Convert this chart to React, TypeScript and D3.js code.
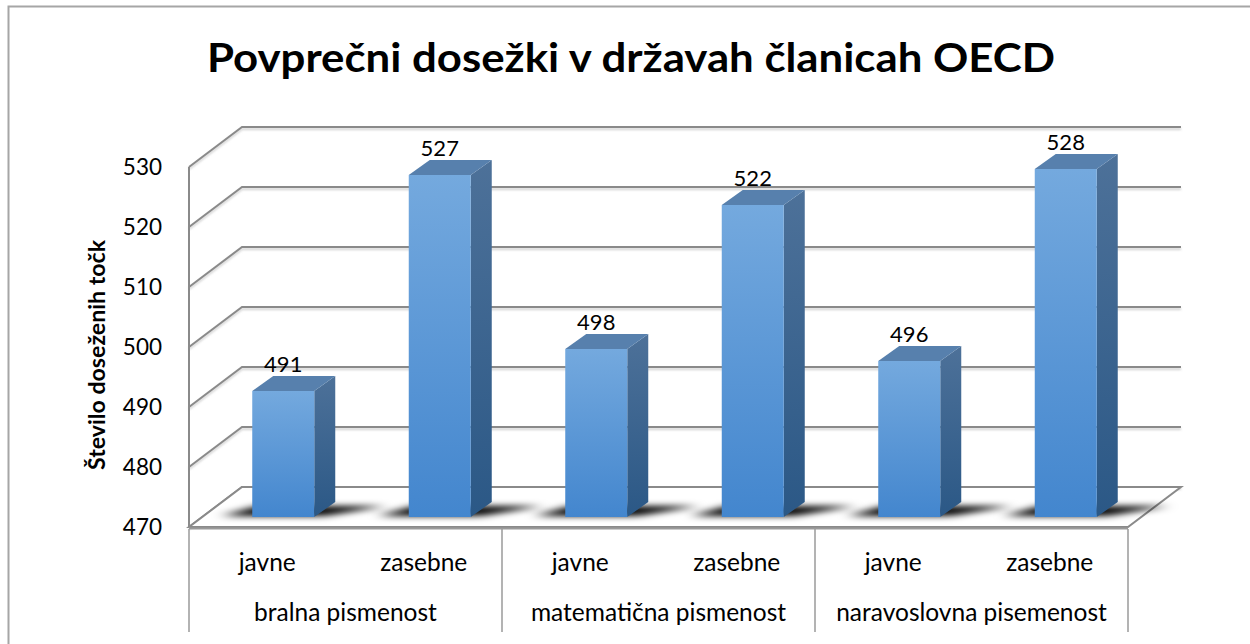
import React from "react";
import * as d3 from "d3";

const groups = ["bralna pismenost", "matematična pismenost", "naravoslovna pisemenost"];
const types = ["javne", "zasebne"];
const javneValues = [491, 498, 496];
const zasebneValues = [527, 522, 528];
const yTicks = [470, 480, 490, 500, 510, 520, 530];
const title = "Povprečni dosežki v državah članicah OECD";
const yTitle = "Število doseženih točk";

const W = 1250;
const H = 644;
const FONT = "Lato, 'Open Sans', sans-serif";

export default function App() {
  const left = 189;
  const right = 1128;
  const DX = 53;
  const DY = -40;
  const y = d3.scaleLinear().domain([470, 530]).range([527, 167]);
  const gx = d3.scaleBand<string>().domain(groups).range([left, right]);
  const cats = groups.flatMap((g) => types.map((t) => g + "|" + t));
  const cx = d3.scaleBand<string>().domain(cats).range([left, right]);
  const bars = groups.flatMap((g, i) => [
    { key: g + "|javne", type: "javne", v: javneValues[i] },
    { key: g + "|zasebne", type: "zasebne", v: zasebneValues[i] },
  ]);
  const bw = 62;
  const offX = 16;
  const offY = -10;
  const bdx = 21;
  const bdy = -15;
  const gridColor = "#8a8a8a";
  const floorY = y(470);

  return (
    <svg width={W} height={H} style={{ position: "fixed", left: 0, top: 0, background: "#fff" }}>
      <defs>
        <linearGradient id="front" x1="0" y1="0" x2="0" y2="1">
          <stop offset="0" stopColor="#74a9de" />
          <stop offset="1" stopColor="#4386ce" />
        </linearGradient>
        <linearGradient id="side" x1="0" y1="0" x2="0" y2="1">
          <stop offset="0" stopColor="#4d7199" />
          <stop offset="1" stopColor="#2b5886" />
        </linearGradient>
        <filter id="blur" x="-50%" y="-100%" width="200%" height="300%">
          <feGaussianBlur stdDeviation="7 3" />
        </filter>
        <filter id="lineShadow" x="-5%" y="-50%" width="110%" height="300%">
          <feGaussianBlur stdDeviation="0.8" />
        </filter>
      </defs>
      <rect x={8.5} y={6.5} width={W + 20} height={H + 20} fill="#fff" stroke="#a6a6a6" strokeWidth={2} />

      {/* gridlines with wall diagonals */}
      {yTicks.map((t) => {
        const yf = y(t);
        const d = `M${left},${yf}L${left + DX},${yf + DY}L${right + DX},${yf + DY}`;
        return (
          <g key={t}>
            <path d={d} transform="translate(0,2)" fill="none" stroke="#cfcfcf" strokeWidth={2} filter="url(#lineShadow)" />
            <path d={d} fill="none" stroke={gridColor} strokeWidth={2} />
          </g>
        );
      })}
      {/* left wall front edge */}
      <line x1={left} x2={left} y1={y(530)} y2={floorY} stroke={gridColor} strokeWidth={2} />

      {/* floor */}
      <path
        d={`M${left},${floorY}L${right},${floorY}L${right + DX},${floorY + DY}L${left + DX},${floorY + DY}Z`}
        fill="#fff"
        stroke={gridColor}
        strokeWidth={2}
      />
      <line x1={left} x2={right} y1={floorY + 1.5} y2={floorY + 1.5} stroke="#9a9a9a" strokeWidth={2} />

      {/* shadows */}
      {bars.map((b) => {
        const x0 = (cx(b.key) as number) + cx.bandwidth() / 2 - bw / 2 + offX;
        const base = floorY + offY;
        const x1 = x0 + bw;
        return (
          <path
            key={"s" + b.key}
            d={`M${x0 - 30},${base - 1}L${x1 + 10},${base - 1}L${x1 + bdx + 50},${base + bdy + 4}L${x0 + 5},${base + bdy + 4}Z`}
            fill="#000"
            opacity={1}
            filter="url(#blur)"
          />
        );
      })}

      {/* bars */}
      {bars.map((b) => {
        const x0 = (cx(b.key) as number) + cx.bandwidth() / 2 - bw / 2 + offX;
        const x1 = x0 + bw;
        const base = floorY + offY;
        const top = y(b.v) + offY;
        return (
          <g key={b.key}>
            <path
              d={`M${x1},${top}L${x1 + bdx},${top + bdy}L${x1 + bdx},${base + bdy}L${x1},${base}Z`}
              fill="url(#side)"
            />
            <path
              d={`M${x0},${top}L${x0 + bdx},${top + bdy}L${x1 + bdx},${top + bdy}L${x1},${top}Z`}
              fill="#5780ad"
            />
            <rect x={x0} y={top} width={bw} height={base - top} fill="url(#front)" />
            <text
              x={x0 + bw / 2}
              y={top + bdy - 4}
              textAnchor="middle"
              fontFamily={FONT}
              fontSize={22}
              fill="#000"
            >
              {b.v}
            </text>
          </g>
        );
      })}

      {/* y tick labels */}
      {yTicks.map((t) => (
        <text key={"t" + t} x={162} y={y(t) + 8} textAnchor="end" fontFamily={FONT} fontSize={22.5} fill="#000">
          {t}
        </text>
      ))}

      {/* category axis box */}
      {[left, ...groups.map((g) => (gx(g) as number) + gx.bandwidth()) ].map((xv, i) => (
        <line key={"v" + i} x1={xv} x2={xv} y1={floorY + 2} y2={632} stroke="#9a9a9a" strokeWidth={1.5} />
      ))}
      {bars.map((b) => (
        <text
          key={"c" + b.key}
          x={(cx(b.key) as number) + cx.bandwidth() / 2}
          y={571}
          textAnchor="middle"
          fontFamily={FONT}
          fontSize={24.5}
          fill="#000"
        >
          {b.type}
        </text>
      ))}
      {groups.map((g) => (
        <text
          key={"g" + g}
          x={(gx(g) as number) + gx.bandwidth() / 2}
          y={621}
          textAnchor="middle"
          fontFamily={FONT}
          fontSize={24.5}
          fill="#000"
        >
          {g}
        </text>
      ))}

      {/* titles */}
      <text
        x={631}
        y={72}
        textAnchor="middle"
        fontFamily={FONT}
        fontWeight="bold"
        fontSize={41}
        textLength={848}
        lengthAdjust="spacingAndGlyphs"
        fill="#000"
      >
        {title}
      </text>
      <text
        transform="translate(105,355) rotate(-90)"
        textAnchor="middle"
        fontFamily={FONT}
        fontWeight="bold"
        fontSize={23}
        textLength={230}
        lengthAdjust="spacingAndGlyphs"
        fill="#000"
      >
        {yTitle}
      </text>
    </svg>
  );
}
